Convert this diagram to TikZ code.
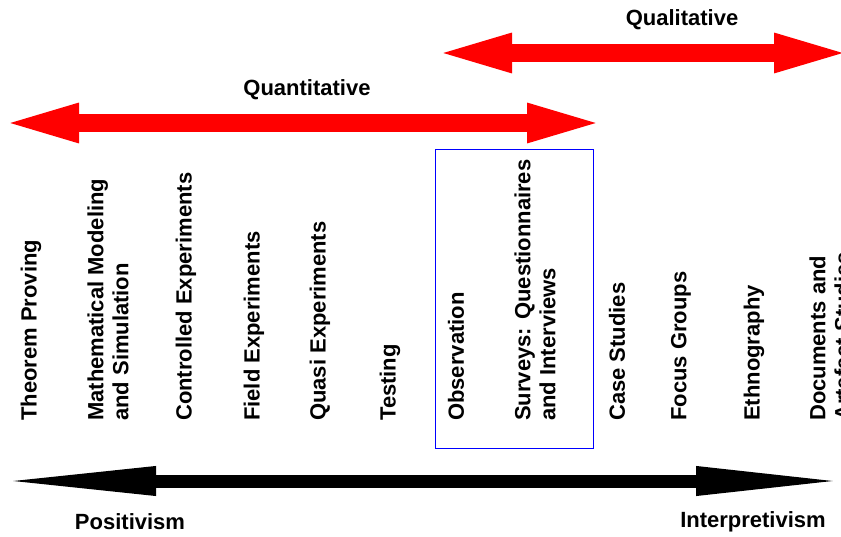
\documentclass[tikz,border=0pt]{standalone}
\usepackage{fontspec}
\setmainfont{Liberation Sans}
\usetikzlibrary{arrows.meta}

\tikzset{
  lbl/.style={font=\fontsize{22}{25}\selectfont\bfseries, inner sep=0pt},
  method/.style={lbl, rotate=90, anchor=west, align=left},
  redarrow/.style={red, line width=18pt, {Triangle[length=81pt,width=34pt]}-{Triangle[length=81pt,width=34pt]}},
  blackarrow/.style={black, line width=13pt, {Triangle[length=162pt,width=26pt]}-{Triangle[length=155pt,width=26pt]}}
}

\begin{document}
\begin{tikzpicture}[x=1pt,y=-1pt]
\useasboundingbox (0,0) rectangle (841,537);

\coordinate (qlLeft) at (431,53);
\coordinate (qlRight) at (855,53);
\draw [redarrow] (qlLeft) -- (qlRight);
\node [lbl] (qualitative) at (682,20) {Qualitative};

\coordinate (qnLeft) at (-2,123);
\coordinate (qnRight) at (608,123);
\draw [redarrow] (qnLeft) -- (qnRight);
\node [lbl] (quantitative) at (307,90) {Quantitative};

\draw [blue, line width=1pt] (435,150) rectangle (593,448);

\node [method] (theorem) at (31,421) {Theorem Proving};
\node [method] (modeling) at (108,421) {Mathematical Modeling\\and Simulation};
\node [method] (controlled) at (186,421) {Controlled Experiments};
\node [method] (field) at (254,421) {Field Experiments};
\node [method] (quasi) at (320,421) {Quasi Experiments};
\node [method] (testing) at (390,421) {Testing};
\node [method] (observation) at (456,421) {Observation};
\node [method] (surveys) at (535,421) {Surveys: Questionnaires\\and Interviews};
\node [method] (casestudies) at (617,421) {Case Studies};
\node [method] (focus) at (681,421) {Focus Groups};
\node [method] (ethnography) at (754,421) {Ethnography};
\node [method] (documents) at (830,421) {Documents and\\Artefact Studies};

\coordinate (posLeft) at (-6,481);
\coordinate (posRight) at (851,481);
\draw [blackarrow] (posLeft) -- (posRight);
\node [lbl] (positivism) at (130,522) {Positivism};
\node [lbl] (interpretivism) at (753,522) {Interpretivism};
\end{tikzpicture}
\end{document}
